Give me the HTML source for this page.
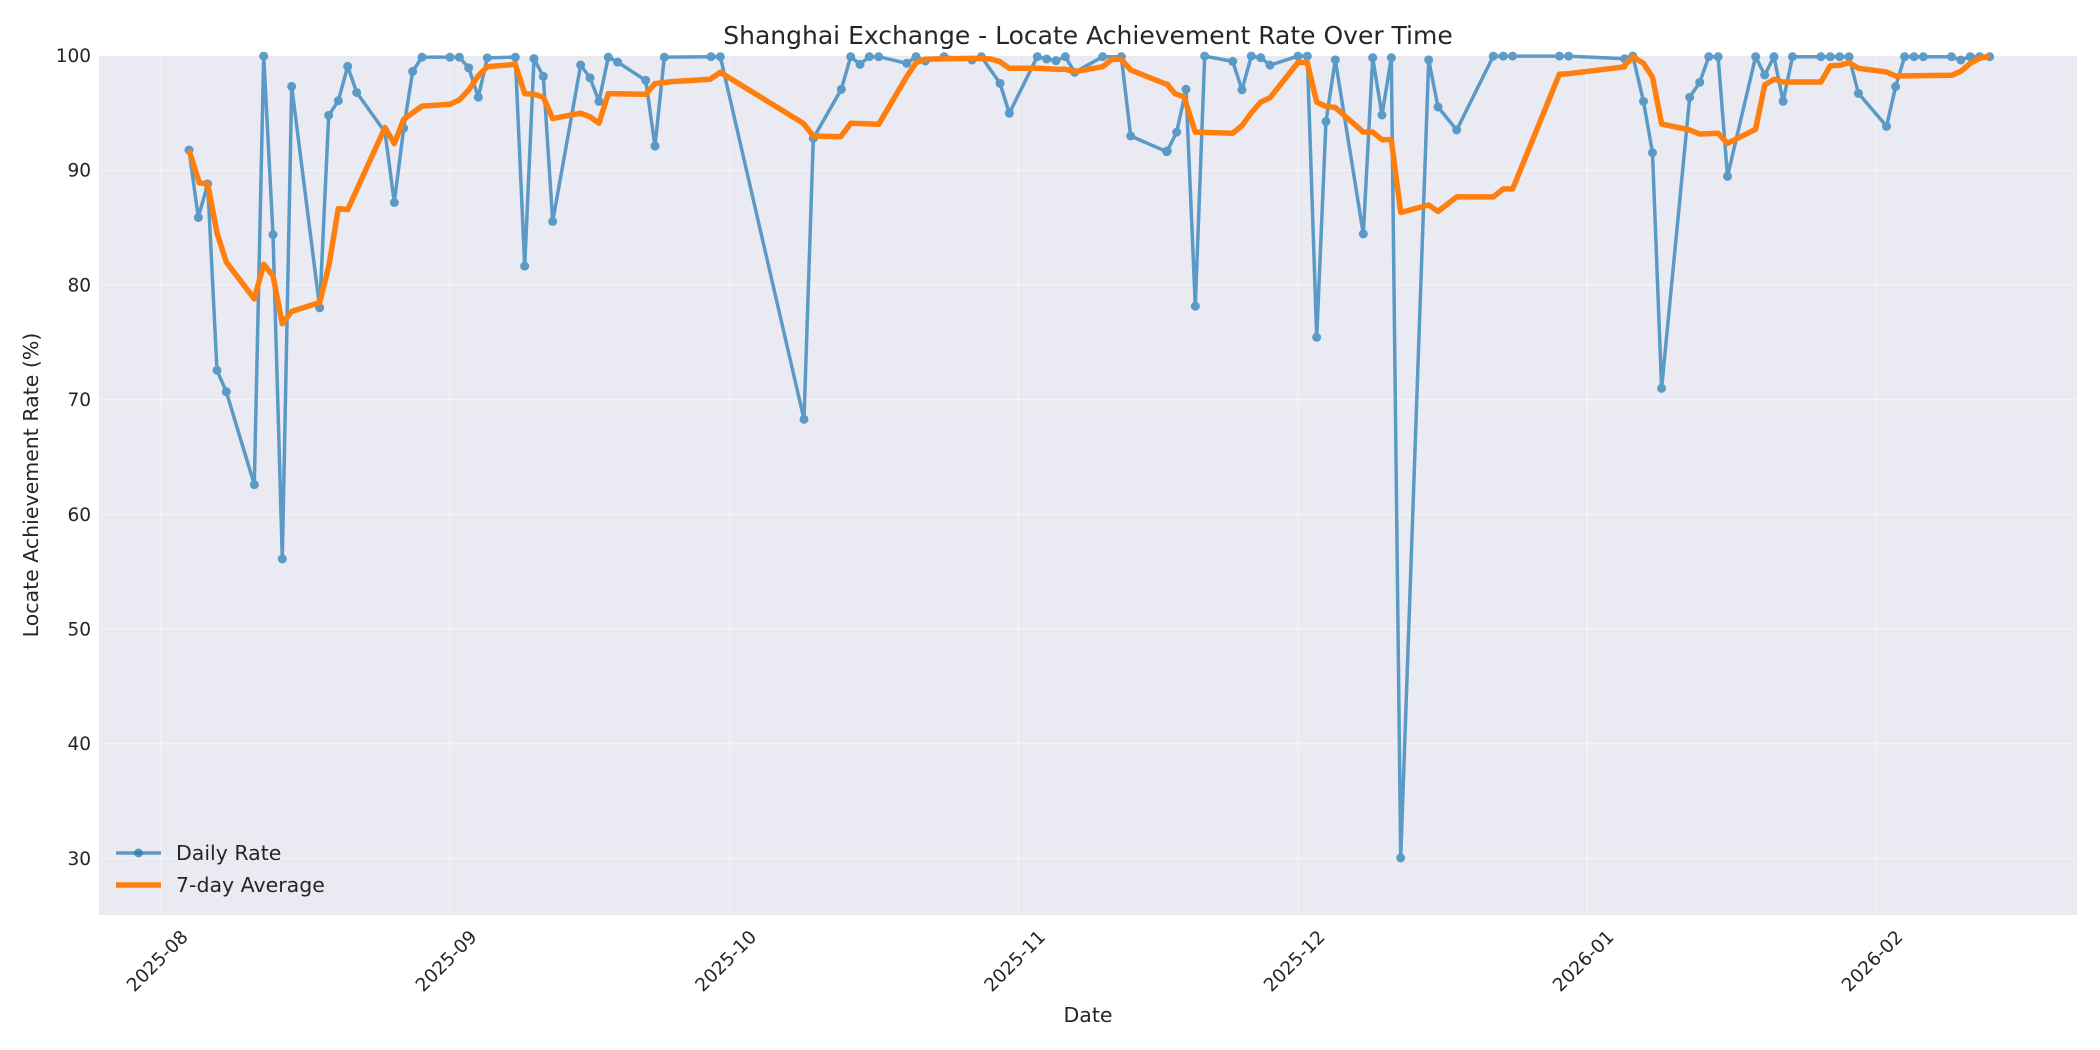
<!DOCTYPE html>
<html><head><meta charset="utf-8"><style>
html,body{margin:0;padding:0;background:#fff;}
svg{display:block;font-family:"DejaVu Sans","Liberation Sans",sans-serif;}
</style></head><body>
<svg id="s" width="2100" height="1050" viewBox="0 0 2100 1050" xmlns="http://www.w3.org/2000/svg">
<rect x="99" y="56" width="1978" height="859" fill="#eaeaf2"/>
<g id="grid" stroke="#ffffff" stroke-width="1" stroke-opacity="0.55"></g>
<g id="ticks" fill="#262626" font-size="18.5"></g>
<text x="1088" y="44" text-anchor="middle" font-size="25" fill="#262626">Shanghai Exchange - Locate Achievement Rate Over Time</text>
<text x="1088" y="1022" text-anchor="middle" font-size="20.5" fill="#262626">Date</text>
<text transform="translate(38,485) rotate(-90)" text-anchor="middle" font-size="20.5" fill="#262626">Locate Achievement Rate (%)</text>
<g id="series"></g>
<g id="legend">
<line x1="116" y1="853" x2="161" y2="853" stroke="#1f77b4" stroke-opacity="0.7" stroke-width="3.5"/>
<circle cx="138.5" cy="853" r="4.5" fill="#1f77b4" fill-opacity="0.7"/>
<line x1="116" y1="885" x2="161" y2="885" stroke="#ff7f0e" stroke-width="5.5"/>
<text x="176" y="860" font-size="20.5" fill="#262626">Daily Rate</text>
<text x="176" y="892" font-size="20.5" fill="#262626">7-day Average</text>
</g>
</svg>
<script>
var NS="http://www.w3.org/2000/svg";
function el(t,a,p){var e=document.createElementNS(NS,t);for(var k in a)e.setAttribute(k,a[k]);p.appendChild(e);return e;}
var grid=document.getElementById('grid'),ticks=document.getElementById('ticks'),ser=document.getElementById('series');
function yv(v){return 55.5+(100-v)*11.47;}
for(var v=30;v<=100;v+=10){var y=yv(v);el('line',{x1:99,x2:2077,y1:y,y2:y},grid);
 var t=el('text',{x:91,y:y+6.5,'text-anchor':'end'},ticks);t.textContent=v;}
var months=['2025-08','2025-09','2025-10','2025-11','2025-12','2026-01','2026-02'];
var days=[0,31,61,92,122,153,184];
for(var i=0;i<7;i++){var x=161+days[i]*9.32;el('line',{x1:x,x2:x,y1:56,y2:915},grid);
 var t=el('text',{transform:'translate('+(x+19)+',929) rotate(-45)','text-anchor':'end','dominant-baseline':'hanging'},ticks);t.textContent=months[i];}
function tr(arr,ox,oy,sx,sy){return arr.map(function(p){return [ox+p[0]/sx,oy+p[1]/sy];});}
var b3=[[117,308],[145,497],[173,403],[201,925],[229,985],[313,1245],[341,45],[369,545],[397,1453],[425,130],[509,750],[536,211],[565,170],[593,74],[620,147],[705,258],[733,455],[761,247],[788,88],[816,48],[900,48],[928,48],[956,78],[985,160],[1012,50],[1096,48],[1124,633],[1152,52],[1180,102],[1208,508],[1292,70],[1320,106],[1347,172],[1375,48],[1403,62],[1487,113],[1515,297],[1543,48]];
var b4=[[183,50],[211,50],[462,1138],[490,295],[574,148],[602,50],[630,73],[658,50],[686,50],[770,70],[798,50],[826,63],[882,50],[966,60],[994,50],[1050,130],[1078,220],[1162,50],[1190,57],[1218,62],[1246,50],[1274,97],[1358,50],[1414,50],[1442,288],[1550,335]];
var b5=[[22,207],[50,172],[78,92],[106,497],[134,30],[218,40],[246,93],[274,30],[302,33],[330,47],[414,30],[442,30],[470,555],[498,152],[526,37],[610,362],[638,33],[666,140],[694,33],[722,1527],[806,37],[834,125],[890,168],[1000,30],[1030,30],[1058,30],[1198,30],[1226,30],[1394,35]];
var b6=[[68,48],[100,184],[127,338],[154,1045],[238,172],[268,127],[295,50],[323,50],[351,409],[435,50],[462,105],[490,50],[517,184],[545,50],[630,50],[658,50],[686,50],[714,50],[742,160],[826,259],[853,140],[880,50],[908,50],[936,50],[1020,50],[1048,60],[1076,50],[1104,50],[1134,50]];
var o3=[[117,308],[148,400],[173,403],[201,540],[229,622],[313,725],[341,628],[369,660],[397,795],[425,760],[509,735],[537,630],[565,472],[593,475],[705,245],[733,290],[761,222],[816,185],[900,180],[928,168],[956,140],[985,100],[1012,75],[1096,68],[1124,150],[1152,152],[1180,160],[1208,220],[1292,205],[1320,215],[1347,233],[1375,150],[1487,152],[1515,122],[1560,117]];
var o4=[[180,118],[211,97],[460,250],[490,288],[572,290],[602,250],[686,253],[770,110],[798,68],[826,58],[966,55],[1022,57],[1050,65],[1078,85],[1162,85],[1218,88],[1246,88],[1274,95],[1358,80],[1386,58],[1414,58],[1442,90],[1555,135]];
var o5=[[20,82],[45,100],[72,106],[106,172],[218,174],[246,160],[274,136],[302,116],[330,108],[414,42],[442,42],[470,116],[498,124],[526,126],[610,172],[638,172],[666,186],[694,186],[722,322],[806,308],[834,320],[890,293],[1000,293],[1030,278],[1058,278],[1198,64],[1226,63],[1394,50]];
var o6=[[40,80],[68,50],[100,70],[127,112],[154,252],[238,270],[268,282],[323,280],[351,310],[435,268],[462,135],[490,118],[517,126],[630,126],[658,77],[686,76],[714,68],[742,85],[826,96],[853,108],[1020,106],[1048,94],[1076,70],[1104,55],[1134,48]];
var blue=[].concat(tr(b3,150,40,3,2.8),tr(b4,650,40,3,3),tr(b5,1160,40,3,1.867),tr(b6,1610,40,2.987,3));
var orng=[].concat(tr(o3,150,40,3,2.8),tr(o4,650,40,3,3),tr(o5,1160,40,3,1.867),tr(o6,1610,40,2.987,3));
function clampY(p){return [p[0],Math.max(p[1],56)];}
blue=blue.map(clampY);orng=orng.map(clampY);
function pts(a){return a.map(function(p){return p[0].toFixed(1)+','+p[1].toFixed(1);}).join(' ');}
var g=el('g',{opacity:0.7},ser);
el('polyline',{points:pts(blue),fill:'none',stroke:'#1f77b4','stroke-width':3.5,'stroke-linejoin':'round'},g);
blue.forEach(function(p){el('circle',{cx:p[0],cy:p[1],r:4.5,fill:'#1f77b4'},g);});
el('polyline',{points:pts(orng),fill:'none',stroke:'#ff7f0e','stroke-width':5.5,'stroke-linejoin':'round'},ser);
</script>
</body></html>
